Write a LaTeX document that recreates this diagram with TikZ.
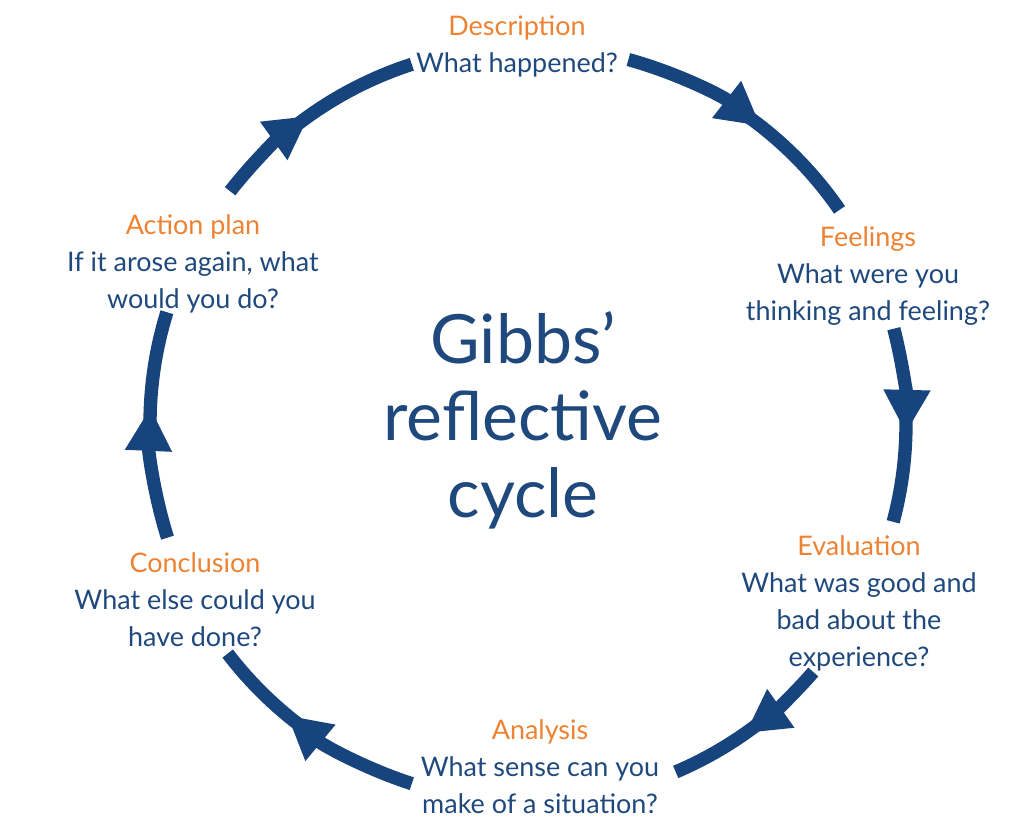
\documentclass[tikz,border=0pt]{standalone}
\usepackage{fontspec}
\setmainfont{Lato}
\usepackage{xcolor}
\usepackage{tikz}
\usetikzlibrary{arrows.meta}
\definecolor{gibbsblue}{RGB}{31,73,125}
\definecolor{arcblue}{RGB}{23,68,125}
\definecolor{gibbsorange}{RGB}{237,130,50}
\tikzset{
  stage/.style={align=center, inner sep=0pt, text=gibbsblue,
                font=\fontsize{23}{31.6}\selectfont},
  heading/.style={align=center, inner sep=0pt, text=gibbsblue,
                  font=\fontsize{58}{65.7}\selectfont},
  cyclearc/.style={draw=arcblue, line width=0.4cm},
  cyclearrow/.style={cyclearc, -{Triangle[length=1.3cm, width=1.32cm]}},
}
\newcommand{\stagename}[1]{{\color{gibbsorange}#1}}
\def\R{11.34cm}

\begin{document}
\begin{tikzpicture}[x=0.03cm, y=0.03cm]
  \useasboundingbox (0,0) rectangle (1024,820);
  \coordinate (O) at (528,396);

  \node[heading] (T) at (523,400) {Gibbs'\\reflective\\cycle};

  \node[stage] (D)  at (517,774) {\stagename{Description}\\What happened?};
  \node[stage] (Fe) at (868,544) {\stagename{Feelings}\\What were you\\thinking and feeling?};
  \node[stage] (Ev) at (859,217) {\stagename{Evaluation}\\What was good and\\bad about the\\experience?};
  \node[stage] (An) at (540,53)  {\stagename{Analysis}\\What sense can you\\make of a situation?};
  \node[stage] (Co) at (195,220) {\stagename{Conclusion}\\What else could you\\have done?};
  \node[stage] (Ac) at (193,556) {\stagename{Action plan}\\If it arose again, what\\would you do?};

  % description -> feelings
  \draw[cyclearrow] ([shift={(74.6:\R)}]O) arc[start angle=74.6, end angle=52, radius=\R];
  \draw[cyclearc]   ([shift={(56:\R)}]O) arc[start angle=56, end angle=34.5, radius=\R];
  % feelings -> evaluation
  \draw[cyclearrow] ([shift={(14.6:\R)}]O) arc[start angle=14.6, end angle=-1.4, radius=\R];
  \draw[cyclearc]   ([shift={(2.6:\R)}]O) arc[start angle=2.6, end angle=-15, radius=\R];
  % evaluation -> analysis
  \draw[cyclearrow] ([shift={(-41:\R)}]O) arc[start angle=-41, end angle=-54.9, radius=\R];
  \draw[cyclearc]   ([shift={(-50.9:\R)}]O) arc[start angle=-50.9, end angle=-67, radius=\R];
  % analysis -> conclusion
  \draw[cyclearrow] ([shift={(-107.9:\R)}]O) arc[start angle=-107.9, end angle=-129.6, radius=\R];
  \draw[cyclearc]   ([shift={(-125.6:\R)}]O) arc[start angle=-125.6, end angle=-142.6, radius=\R];
  % conclusion -> action plan
  \draw[cyclearrow] ([shift={(-162.5:\R)}]O) arc[start angle=-162.5, end angle=-182.5, radius=\R];
  \draw[cyclearc]   ([shift={(-178.5:\R)}]O) arc[start angle=-178.5, end angle=-197.2, radius=\R];
  % action plan -> description
  \draw[cyclearrow] ([shift={(142:\R)}]O) arc[start angle=142, end angle=125.4, radius=\R];
  \draw[cyclearc]   ([shift={(129.4:\R)}]O) arc[start angle=129.4, end angle=107.9, radius=\R];
\end{tikzpicture}
\end{document}
